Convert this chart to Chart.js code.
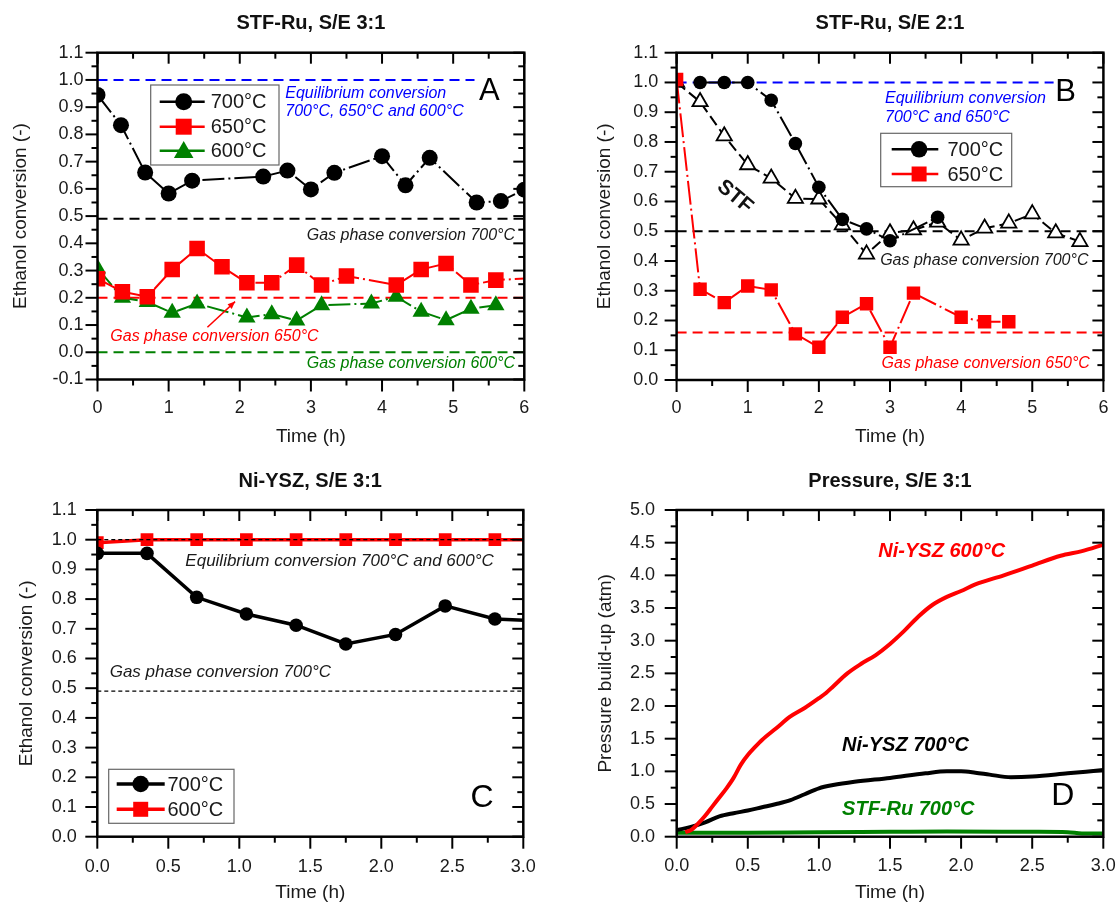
<!DOCTYPE html>
<html><head><meta charset="utf-8">
<script src="https://cdn.jsdelivr.net/npm/chart.js@4.4.1/dist/chart.umd.min.js"></script>
<style>
html,body{margin:0;padding:0;background:#fff;width:1120px;height:910px;overflow:hidden}
canvas{position:absolute}
</style></head><body>
<canvas id="cA" width="560" height="455" style="left:0;top:0"></canvas>
<canvas id="cB" width="560" height="455" style="left:560px;top:0"></canvas>
<canvas id="cC" width="560" height="455" style="left:0;top:455px"></canvas>
<canvas id="cD" width="560" height="455" style="left:560px;top:455px"></canvas>
<script>
// ---------------- DATA ----------------
// Panel A: STF-Ru, S/E 3:1
const aTime700 = [0,0.33,0.67,1,1.33,2.33,2.67,3,3.33,4,4.33,4.67,5.33,5.67,6];
const aConv700 = [0.945,0.834,0.66,0.583,0.63,0.645,0.667,0.598,0.659,0.72,0.613,0.714,0.55,0.555,0.597];
const aTime650 = [0,0.35,0.7,1.05,1.4,1.75,2.1,2.45,2.8,3.15,3.5,4.2,4.55,4.9,5.25,5.6,6.3];
const aConv650 = [0.27,0.222,0.204,0.304,0.381,0.314,0.255,0.255,0.32,0.247,0.28,0.247,0.304,0.326,0.247,0.265,0.275];
const aTime600 = [0,0.35,0.7,1.05,1.4,2.1,2.45,2.8,3.15,3.85,4.2,4.55,4.9,5.25,5.6];
const aConv600 = [0.308,0.2,0.185,0.145,0.179,0.128,0.14,0.117,0.173,0.179,0.204,0.149,0.118,0.16,0.173];
const aEqTime = [0,5.3],  aEqConv = [1,1];
const aGasTime = [0,6];
const aGas700 = [0.49,0.49], aGas650 = [0.2,0.2], aGas600 = [0,0];
const aXTicks = [0,1,2,3,4,5,6];
const aYTicks = [-0.1,0,0.1,0.2,0.3,0.4,0.5,0.6,0.7,0.8,0.9,1.0,1.1];

// Panel B: STF-Ru, S/E 2:1
const bTime700 = [0.33,0.67,1,1.33,1.67,2,2.33,2.67,3,3.67];
const bConv700 = [1,1,1,0.94,0.795,0.648,0.54,0.508,0.468,0.547];
const bTime650 = [0,0.33,0.67,1,1.33,1.67,2,2.33,2.67,3,3.33,4,4.33,4.67];
const bConv650 = [1.01,0.305,0.26,0.316,0.303,0.155,0.11,0.211,0.256,0.11,0.292,0.211,0.196,0.196];
const bTimeSTF = [0,0.33,0.67,1,1.33,1.67,2,2.33,2.67,3,3.33,3.67,4,4.33,4.67,5,5.33,5.67];
const bConvSTF = [1.0,0.935,0.82,0.723,0.678,0.61,0.608,0.521,0.423,0.494,0.504,0.53,0.47,0.51,0.527,0.558,0.494,0.465];
const bEqTime = [0,5.3], bEqConv = [1,1];
const bGasTime = [0,6];
const bGas700 = [0.5,0.5], bGas650 = [0.16,0.16];
const bXTicks = [0,1,2,3,4,5,6];
const bYTicks = [0,0.1,0.2,0.3,0.4,0.5,0.6,0.7,0.8,0.9,1.0,1.1];

// Panel C: Ni-YSZ, S/E 3:1
const cTime = [0,0.35,0.7,1.05,1.4,1.75,2.1,2.45,2.8,3.15];
const cConv700 = [0.954,0.954,0.806,0.75,0.712,0.649,0.681,0.777,0.733,0.726];
const cConv600 = [0.99,1,1,1,1,1,1,1,1,1];
const cRefTime = [0,3];
const cEqConv = [1,1], cGas700 = [0.49,0.49];
const cXTicks = [0,0.5,1,1.5,2,2.5,3];
const cYTicks = [0,0.1,0.2,0.3,0.4,0.5,0.6,0.7,0.8,0.9,1.0,1.1];

// Panel D: Pressure, S/E 3:1
const dTimeNi600 = [0.06,0.1,0.15,0.2,0.25,0.3,0.35,0.4,0.45,0.5,0.55,0.6,0.7,0.8,0.9,1.0,1.05,1.1,1.2,1.3,1.4,1.5,1.6,1.7,1.8,1.9,2.0,2.1,2.3,2.5,2.7,2.85,3.0];
const dPresNi600 = [0.07,0.1,0.2,0.32,0.46,0.6,0.74,0.9,1.1,1.25,1.37,1.48,1.66,1.84,1.97,2.12,2.2,2.3,2.5,2.65,2.78,2.95,3.15,3.37,3.55,3.67,3.76,3.86,4.0,4.15,4.3,4.37,4.47];
const dTimeNi700 = [0,0.1,0.2,0.3,0.4,0.5,0.6,0.7,0.8,0.9,1.0,1.1,1.25,1.5,1.75,1.9,2.0,2.1,2.2,2.35,2.5,2.75,3.0];
const dPresNi700 = [0.1,0.15,0.22,0.31,0.36,0.4,0.45,0.5,0.56,0.65,0.74,0.79,0.84,0.9,0.97,1.0,1.0,0.98,0.95,0.91,0.92,0.97,1.02];
const dTimeSTF = [0,0.5,1.0,1.5,1.9,2.5,2.75,2.85,3.0];
const dPresSTF = [0.06,0.06,0.07,0.075,0.08,0.075,0.07,0.05,0.05];
const dXTicks = [0,0.5,1,1.5,2,2.5,3];
const dYTicks = [0,0.5,1,1.5,2,2.5,3,3.5,4,4.5,5];

// ---------------- HELPERS ----------------
const FAM = '"Liberation Sans", Arial, sans-serif';
Chart.defaults.font.family = FAM;
Chart.defaults.color = '#1a1a1a';
const RED = '#ff0000', GREEN = '#008000', BLUE = '#0000ff', BLK = '#000000';
const zip = (xs, ys) => xs.map((x, i) => ({x: x, y: ys[i]}));

function tickList(majors) {
  const out = [];
  majors.forEach((v, i) => {
    out.push({value: v, isMajor: true});
    if (i < majors.length - 1) out.push({value: (v + majors[i + 1]) / 2, isMajor: false});
  });
  return out;
}

function scales(p) {
  const xt = tickList(p.xTicks), yt = tickList(p.yTicks);
  return {
    x: {
      type: 'linear', min: p.xTicks[0], max: p.xTicks[p.xTicks.length - 1],
      afterBuildTicks: s => { s.ticks = xt.map(t => ({value: t.value, isMajor: t.isMajor})); },
      ticks: {autoSkip: false, maxRotation: 0, minRotation: 0, padding: 0, font: {size: 18}, color: '#1a1a1a',
        callback: (v, i, ts) => ts[i].isMajor ? v.toFixed(p.xDec) : ''},
      grid: {display: true, drawOnChartArea: false, drawTicks: true, tickLength: p.xtPad, color: 'rgba(0,0,0,0)'},
      border: {display: false},
      title: {display: true, text: 'Time (h)', font: {size: 19}, color: '#1a1a1a', padding: {top: 0, bottom: p.xTitlePad}},
      afterFit: s => { s.height = p.xH; }
    },
    y: {
      type: 'linear', min: p.yTicks[0], max: p.yTicks[p.yTicks.length - 1],
      afterBuildTicks: s => { s.ticks = yt.map(t => ({value: t.value, isMajor: t.isMajor})); },
      ticks: {autoSkip: false, padding: 0, font: {size: 18}, color: '#1a1a1a',
        callback: (v, i, ts) => ts[i].isMajor ? v.toFixed(1) : ''},
      grid: {display: true, drawOnChartArea: false, drawTicks: true, tickLength: p.ytPad, color: 'rgba(0,0,0,0)'},
      border: {display: false},
      title: {display: true, text: p.yTitle, font: {size: 19}, color: '#1a1a1a', padding: {top: p.yTitlePad, bottom: 0}},
      afterFit: s => { s.width = p.yW; }
    }
  };
}

function drawMarker(ctx, type, x, y, s, fill, stroke, lw) {
  ctx.beginPath();
  if (type === 'circle') ctx.arc(x, y, s, 0, Math.PI * 2);
  else if (type === 'rect') ctx.rect(x - s, y - s, 2 * s, 2 * s);
  else if (type === 'triangle') { ctx.moveTo(x, y - s * 1.15); ctx.lineTo(x + s * 1.15, y + s * 0.85); ctx.lineTo(x - s * 1.15, y + s * 0.85); ctx.closePath(); }
  ctx.fillStyle = fill; ctx.fill();
  if (lw) { ctx.lineWidth = lw; ctx.strokeStyle = stroke; ctx.stroke(); }
}

const decor = {
  id: 'decor',
  afterDatasetsDraw(chart, args, o) {
    const ctx = chart.ctx, ca = chart.chartArea, sx = chart.scales.x, sy = chart.scales.y;
    ctx.save();
    // ticks
    ctx.strokeStyle = '#000'; ctx.lineWidth = 2;
    const seg = (a, b, c, d) => { ctx.beginPath(); ctx.moveTo(a, b); ctx.lineTo(c, d); ctx.stroke(); };
    sx.ticks.forEach(t => {
      const px = sx.getPixelForValue(t.value), L = t.isMajor ? 12 : 6, Li = t.isMajor ? 11 : 6;
      seg(px, ca.bottom, px, ca.bottom + L);
      seg(px, ca.top, px, ca.top + Li);
    });
    sy.ticks.forEach(t => {
      const py = sy.getPixelForValue(t.value), L = t.isMajor ? 12 : 6, Li = t.isMajor ? 11 : 6;
      seg(ca.left - L, py, ca.left, py);
      seg(ca.right - Li, py, ca.right, py);
    });
    ctx.lineWidth = 2.5;
    ctx.strokeRect(ca.left, ca.top, ca.right - ca.left, ca.bottom - ca.top);
    // title
    if (o.title) {
      ctx.fillStyle = '#111'; ctx.font = 'bold 20px ' + FAM; ctx.textAlign = 'center'; ctx.textBaseline = 'middle';
      ctx.fillText(o.title, (ca.left + ca.right) / 2, o.titleY);
    }
    // texts
    (o.texts || []).forEach(t => {
      const px = sx.getPixelForValue(t.x), py = sy.getPixelForValue(t.y);
      ctx.save();
      ctx.translate(px, py);
      if (t.rot) ctx.rotate(t.rot * Math.PI / 180);
      ctx.fillStyle = t.c; ctx.font = t.f + ' ' + FAM; ctx.textAlign = t.a || 'left'; ctx.textBaseline = 'middle';
      ctx.fillText(t.t, 0, 0);
      ctx.restore();
    });
    // arrows
    (o.arrows || []).forEach(a => {
      const x1 = sx.getPixelForValue(a.x1), y1 = sy.getPixelForValue(a.y1);
      const x2 = sx.getPixelForValue(a.x2), y2 = sy.getPixelForValue(a.y2);
      ctx.strokeStyle = a.c; ctx.fillStyle = a.c; ctx.lineWidth = 1.5;
      seg(x1, y1, x2, y2);
      const ang = Math.atan2(y2 - y1, x2 - x1), h = 8;
      ctx.beginPath(); ctx.moveTo(x2, y2);
      ctx.lineTo(x2 - h * Math.cos(ang - 0.4), y2 - h * Math.sin(ang - 0.4));
      ctx.lineTo(x2 - h * Math.cos(ang + 0.4), y2 - h * Math.sin(ang + 0.4));
      ctx.closePath(); ctx.fill();
    });
    // legend
    if (o.legend) {
      const L = o.legend, bx = ca.left + L.dx, by = ca.top + L.dy;
      ctx.fillStyle = '#fff'; ctx.fillRect(bx, by, L.w, L.h);
      ctx.strokeStyle = '#666'; ctx.lineWidth = 1.2; ctx.strokeRect(bx, by, L.w, L.h);
      L.rows.forEach(r => {
        const ry = by + r.y;
        ctx.strokeStyle = r.c; ctx.lineWidth = L.lw; ctx.setLineDash([]);
        seg(bx + L.l1, ry, bx + L.l2, ry);
        drawMarker(ctx, r.m, bx + L.mx, ry, r.s, r.c, r.c, 0);
        ctx.fillStyle = '#1a1a1a'; ctx.font = '20px ' + FAM; ctx.textAlign = 'left'; ctx.textBaseline = 'middle';
        ctx.fillText(r.t, bx + L.tx, ry + 1);
      });
    }
    ctx.restore();
  }
};

function series(xs, ys, o) {
  return Object.assign({data: zip(xs, ys), clip: 0, borderWidth: 2, tension: 0, pointBorderWidth: 0, pointHoverRadius: 0}, o);
}
function refLine(xs, ys, color, dash, w) {
  return {data: zip(xs, ys), clip: 0, borderColor: color, borderWidth: w || 2, borderDash: dash, pointRadius: 0, pointHoverRadius: 0, fill: false};
}

function makeChart(id, p, datasets, deco) {
  const W = 560, H = 455;
  return new Chart(document.getElementById(id), {
    type: 'line',
    data: {datasets: datasets},
    options: {
      responsive: false, animation: false, events: [],
      layout: {autoPadding: false, padding: {left: 0, top: p.caTop, right: W - p.caRight, bottom: H - p.caBottom - p.xH}},
      scales: scales(p),
      plugins: {legend: {display: false}, tooltip: {enabled: false}, title: {display: false}, decor: deco}
    },
    plugins: [decor]
  });
}

const DASHDOT = [22, 4, 2, 4];

// ---------------- PANEL A ----------------
makeChart('cA', {
  xTicks: aXTicks, yTicks: aYTicks, xDec: 0, yTitle: 'Ethanol conversion (-)',
  caTop: 52.7, caRight: 524.3, caBottom: 379.5, yW: 97.5, xH: 70,
  ytPad: 14, yTitlePad: 9.6, xtPad: 18, xTitlePad: 1.1
}, [
  series(aTime700, aConv700, {borderColor: BLK, borderDash: DASHDOT, pointStyle: 'circle', pointRadius: 8, pointBackgroundColor: BLK}),
  series(aTime650, aConv650, {borderColor: RED, borderDash: DASHDOT, pointStyle: 'rect', pointRadius: 11, pointBackgroundColor: RED}),
  series(aTime600, aConv600, {borderColor: GREEN, borderDash: DASHDOT, pointStyle: 'triangle', pointRadius: 10, pointBackgroundColor: GREEN}),
  refLine(aEqTime, aEqConv, BLUE, [10, 6]),
  refLine(aGasTime, aGas700, BLK, [10, 6]),
  refLine(aGasTime, aGas650, RED, [10, 6]),
  refLine(aGasTime, aGas600, GREEN, [10, 6])
], {
  title: 'STF-Ru, S/E 3:1', titleY: 23,
  texts: [
    {t: 'Equilibrium conversion', x: 2.64, y: 0.951, c: BLUE, f: 'italic 16px'},
    {t: '700°C, 650°C and 600°C', x: 2.64, y: 0.883, c: BLUE, f: 'italic 16px'},
    {t: 'A', x: 5.51, y: 0.959, c: '#000', f: '31px', a: 'center'},
    {t: 'Gas phase conversion 700°C', x: 5.87, y: 0.43, c: '#1a1a1a', f: 'italic 16px', a: 'right'},
    {t: 'Gas phase conversion 650°C', x: 0.18, y: 0.057, c: RED, f: 'italic 16px'},
    {t: 'Gas phase conversion 600°C', x: 5.87, y: -0.041, c: GREEN, f: 'italic 16px', a: 'right'}
  ],
  arrows: [{x1: 1.545, y1: 0.092, x2: 1.934, y2: 0.186, c: RED}],
  legend: {dx: 53.2, dy: 32.3, w: 128.3, h: 80, l1: 9, l2: 54, mx: 33, tx: 60, lw: 2.5,
    rows: [{t: '700°C', c: BLK, m: 'circle', s: 8.5, y: 16.7},
           {t: '650°C', c: RED, m: 'rect', s: 8, y: 41.7},
           {t: '600°C', c: GREEN, m: 'triangle', s: 8.5, y: 65.7}]}
});

// ---------------- PANEL B ----------------
makeChart('cB', {
  xTicks: bXTicks, yTicks: bYTicks, xDec: 0, yTitle: 'Ethanol conversion (-)',
  caTop: 52.7, caRight: 543.4, caBottom: 380, yW: 116.6, xH: 70,
  ytPad: 18.4, yTitlePad: 33.6, xtPad: 17.5, xTitlePad: 1.6
}, [
  series(bTime700, bConv700, {borderColor: BLK, borderDash: DASHDOT, pointStyle: 'circle', pointRadius: 6.8, pointBackgroundColor: BLK}),
  series(bTime650, bConv650, {borderColor: RED, borderDash: [24, 4, 2, 4], pointStyle: 'rect', pointRadius: 9.5, pointBackgroundColor: RED}),
  series(bTimeSTF, bConvSTF, {borderColor: BLK, borderDash: [11, 5], pointStyle: 'triangle', pointRadius: 8.8, pointBackgroundColor: '#fff', pointBorderColor: BLK, pointBorderWidth: 1.8}),
  refLine(bEqTime, bEqConv, BLUE, [10, 6]),
  refLine(bGasTime, bGas700, BLK, [10, 6]),
  refLine(bGasTime, bGas650, RED, [10, 6])
], {
  title: 'STF-Ru, S/E 2:1', titleY: 23,
  texts: [
    {t: 'Equilibrium conversion', x: 2.93, y: 0.947, c: BLUE, f: 'italic 16px'},
    {t: '700°C and 650°C', x: 2.93, y: 0.883, c: BLUE, f: 'italic 16px'},
    {t: 'B', x: 5.47, y: 0.965, c: '#000', f: '31px', a: 'center'},
    {t: 'STF', x: 0.82, y: 0.616, c: '#111', f: 'bold 21px', a: 'center', rot: 40},
    {t: 'Gas phase conversion 700°C', x: 5.79, y: 0.40, c: '#1a1a1a', f: 'italic 16px', a: 'right'},
    {t: 'Gas phase conversion 650°C', x: 5.81, y: 0.056, c: RED, f: 'italic 16px', a: 'right'}
  ],
  legend: {dx: 204.1, dy: 80.6, w: 131, h: 53.4, l1: 11, l2: 57.6, mx: 38.4, tx: 66.7, lw: 2.5,
    rows: [{t: '700°C', c: BLK, m: 'circle', s: 8.3, y: 16},
           {t: '650°C', c: RED, m: 'rect', s: 7.5, y: 40.7}]}
});

// ---------------- PANEL C ----------------
makeChart('cC', {
  xTicks: cXTicks, yTicks: cYTicks, xDec: 1, yTitle: 'Ethanol conversion (-)',
  caTop: 55, caRight: 523.3, caBottom: 381.7, yW: 97.3, xH: 70,
  ytPad: 20.6, yTitlePad: 15.3, xtPad: 19.2, xTitlePad: 2.3
}, [
  refLine(cRefTime, cEqConv, BLK, [4, 3], 1.3),
  series(cTime, cConv700, {borderColor: BLK, borderWidth: 3.5, pointStyle: 'circle', pointRadius: 6.8, pointBackgroundColor: BLK}),
  series(cTime, cConv600, {borderColor: RED, borderWidth: 3.5, pointStyle: 'rect', pointRadius: 9, pointBackgroundColor: RED}),
  refLine(cRefTime, cGas700, BLK, [4, 3], 1.2)
], {
  title: 'Ni-YSZ, S/E 3:1', titleY: 26,
  texts: [
    {t: 'Equilibrium conversion 700°C and 600°C', x: 0.62, y: 0.929, c: '#1a1a1a', f: 'italic 17px'},
    {t: 'Gas phase conversion 700°C', x: 0.087, y: 0.552, c: '#1a1a1a', f: 'italic 17px'},
    {t: 'C', x: 2.71, y: 0.129, c: '#000', f: '32px', a: 'center'}
  ],
  legend: {dx: 11.4, dy: 259.3, w: 125.3, h: 54, l1: 8, l2: 56, mx: 32, tx: 58.7, lw: 3.5,
    rows: [{t: '700°C', c: BLK, m: 'circle', s: 8.3, y: 14.7},
           {t: '600°C', c: RED, m: 'rect', s: 7.5, y: 40}]}
});

// ---------------- PANEL D ----------------
makeChart('cD', {
  xTicks: dXTicks, yTicks: dYTicks, xDec: 1, yTitle: 'Pressure build-up (atm)',
  caTop: 55, caRight: 543.3, caBottom: 381.7, yW: 116.7, xH: 70,
  ytPad: 21.7, yTitlePad: 34.5, xtPad: 18.5, xTitlePad: 2.3
}, [
  series(dTimeNi600, dPresNi600, {borderColor: RED, borderWidth: 4, pointRadius: 0, cubicInterpolationMode: 'monotone'}),
  series(dTimeNi700, dPresNi700, {borderColor: BLK, borderWidth: 4, pointRadius: 0, cubicInterpolationMode: 'monotone'}),
  series(dTimeSTF, dPresSTF, {borderColor: GREEN, borderWidth: 4, pointRadius: 0, cubicInterpolationMode: 'monotone'})
], {
  title: 'Pressure, S/E 3:1', titleY: 26,
  texts: [
    {t: 'Ni-YSZ 600°C', x: 1.418, y: 4.36, c: RED, f: 'italic bold 20px'},
    {t: 'Ni-YSZ 700°C', x: 1.163, y: 1.39, c: '#000', f: 'italic bold 20px'},
    {t: 'STF-Ru 700°C', x: 1.163, y: 0.42, c: GREEN, f: 'italic bold 20px'},
    {t: 'D', x: 2.715, y: 0.62, c: '#000', f: '32px', a: 'center'}
  ]
});
</script>
</body></html>
